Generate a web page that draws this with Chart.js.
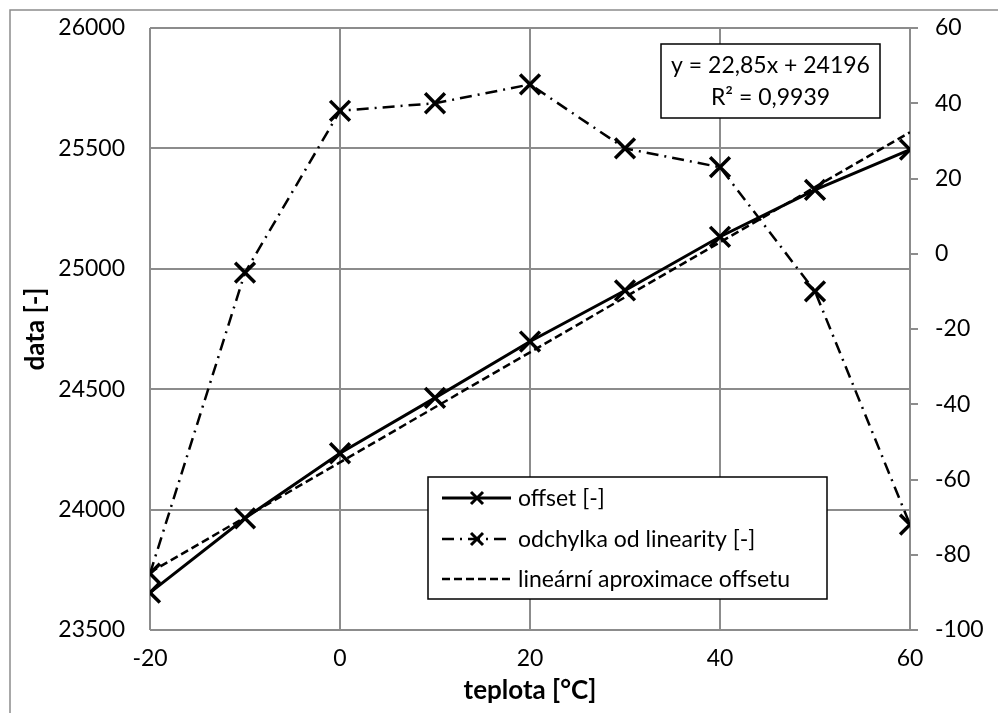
<!DOCTYPE html>
<html>
<head>
<meta charset="utf-8">
<script src="https://cdn.jsdelivr.net/npm/chart.js@4.4.1/dist/chart.umd.min.js"></script>
<style>
html,body{margin:0;padding:0;background:#fff;}
#wrap{position:relative;width:998px;height:713px;}
canvas{display:block;}
</style>
</head>
<body>
<div id="wrap"><canvas id="c" width="998" height="713"></canvas></div>
<script>
// ---- data ----
const temperatures = [-20, -10, 0, 10, 20, 30, 40, 50, 60];
const offsetValues = [23655, 23964, 24234, 24464, 24698, 24910, 25133, 25328, 25495];
const deviationValues = [-85, -5, 38, 40, 45, 28, 23, -10, -72];
const trendValues = [23739, 23968, 24196, 24425, 24653, 24882, 25110, 25339, 25567];
const xTicks = [-20, 0, 20, 40, 60];
const leftTicks = [23500, 24000, 24500, 25000, 25500, 26000];
const rightTicks = [-100, -80, -60, -40, -20, 0, 20, 40, 60];
const seriesNames = ['offset [-]', 'odchylka od linearity [-]', 'lineární aproximace offsetu'];
const equationLines = ['y = 22,85x + 24196', 'R² = 0,9939'];
const xTitle = 'teplota [°C]';
const yTitle = 'data [-]';

const FONT = 'Lato, "Open Sans", sans-serif';
const GRID = '#8c8c8c';

const toPts = (ys) => temperatures.map((t, i) => ({x: t, y: ys[i]}));
const plain = (v) => String(v);

const dashDot = [12, 6, 2, 6];
const dashed = [8, 4];

const styles = [
  {dash: [], width: 3, marker: true},
  {dash: dashDot, width: 2.5, marker: true},
  {dash: dashed, width: 2.5, marker: false}
];

function drawX(ctx, x, y, r, w) {
  ctx.save();
  ctx.setLineDash([]);
  ctx.lineWidth = w;
  ctx.strokeStyle = '#000';
  ctx.beginPath();
  ctx.moveTo(x - r, y - r); ctx.lineTo(x + r, y + r);
  ctx.moveTo(x + r, y - r); ctx.lineTo(x - r, y + r);
  ctx.stroke();
  ctx.restore();
}

const overlayPlugin = {
  id: 'overlay',
  beforeDraw(chart) {
    const ctx = chart.ctx;
    ctx.save();
    ctx.fillStyle = '#fff';
    ctx.fillRect(0, 0, chart.width, chart.height);
    ctx.strokeStyle = '#8c8c8c';
    ctx.lineWidth = 1.5;
    ctx.beginPath();
    ctx.moveTo(10, 713);
    ctx.lineTo(10, 10);
    ctx.lineTo(998, 10);
    ctx.stroke();
    ctx.restore();
  },
  afterDraw(chart) {
    const ctx = chart.ctx;
    ctx.save();
    // equation box
    ctx.fillStyle = '#fff';
    ctx.fillRect(661, 44, 219, 74);
    ctx.strokeStyle = '#000';
    ctx.lineWidth = 1.5;
    ctx.strokeRect(661, 44, 219, 74);
    ctx.fillStyle = '#000';
    ctx.font = '23px ' + FONT;
    ctx.textAlign = 'center';
    ctx.textBaseline = 'middle';
    ctx.fillText(equationLines[0], 770.5, 66);
    ctx.fillText(equationLines[1], 770.5, 98);

    // legend
    const lx = 428, ly = 477, lw = 399, lh = 122;
    ctx.fillStyle = '#fff';
    ctx.fillRect(lx, ly, lw, lh);
    ctx.strokeStyle = '#000';
    ctx.lineWidth = 1.5;
    ctx.strokeRect(lx, ly, lw, lh);
    const rows = [498, 539, 579];
    ctx.textAlign = 'left';
    ctx.textBaseline = 'middle';
    ctx.font = '23px ' + FONT;
    seriesNames.forEach((name, i) => {
      const st = styles[i];
      const y = rows[i];
      ctx.save();
      ctx.strokeStyle = '#000';
      ctx.lineWidth = st.width;
      ctx.setLineDash(st.dash);
      ctx.beginPath();
      ctx.moveTo(442, y);
      ctx.lineTo(511, y);
      ctx.stroke();
      ctx.restore();
      if (st.marker) drawX(ctx, 477, y, 6, 3);
      ctx.fillStyle = '#000';
      ctx.fillText(name, 518, y + 1);
    });
    ctx.restore();
  }
};

const ctx = document.getElementById('c').getContext('2d');
new Chart(ctx, {
  type: 'line',
  data: {
    datasets: [
      {
        label: seriesNames[0],
        data: toPts(offsetValues),
        yAxisID: 'y',
        borderColor: '#000',
        borderWidth: 3,
        pointStyle: 'crossRot',
        pointRadius: 14,
        pointBorderWidth: 3.5,
        pointBorderColor: '#000',
        pointBackgroundColor: '#000',
        tension: 0,
        order: 1
      },
      {
        label: seriesNames[1],
        data: toPts(deviationValues),
        yAxisID: 'y2',
        borderColor: '#000',
        borderWidth: 2.5,
        borderDash: dashDot,
        pointStyle: 'crossRot',
        pointRadius: 14,
        pointBorderWidth: 3.5,
        pointBorderColor: '#000',
        pointBackgroundColor: '#000',
        tension: 0,
        order: 2
      },
      {
        label: seriesNames[2],
        data: toPts(trendValues),
        yAxisID: 'y',
        borderColor: '#000',
        borderWidth: 2.5,
        borderDash: dashed,
        pointRadius: 0,
        tension: 0,
        order: 3
      }
    ]
  },
  options: {
    responsive: false,
    animation: false,
    devicePixelRatio: 1,
    layout: {padding: {top: 28, left: 0, right: 0, bottom: 0}},
    plugins: {legend: {display: false}, tooltip: {enabled: false}},
    scales: {
      x: {
        type: 'linear',
        min: xTicks[0],
        max: xTicks[xTicks.length - 1],
        afterBuildTicks: (s) => { s.ticks = xTicks.map(v => ({value: v})); },
        afterFit: (s) => { s.height = 83; s.paddingLeft = 0; s.paddingRight = 0; },
        ticks: {color: '#000', font: {family: FONT, size: 23}, padding: 15, maxRotation: 0, autoSkip: false, callback: plain},
        grid: {color: GRID, lineWidth: 2, drawTicks: false},
        border: {display: false},
        title: {display: true, text: xTitle, color: '#000', font: {family: FONT, size: 26, weight: 'bold'}, padding: {top: 0, bottom: 7}}
      },
      y: {
        type: 'linear',
        position: 'left',
        min: leftTicks[0],
        max: leftTicks[leftTicks.length - 1],
        afterBuildTicks: (s) => { s.ticks = leftTicks.map(v => ({value: v})); },
        afterFit: (s) => { s.width = 150; s.paddingTop = 0; s.paddingBottom = 0; },
        ticks: {color: '#000', font: {family: FONT, size: 23}, padding: 25, autoSkip: false, callback: plain},
        grid: {color: GRID, lineWidth: 2, drawTicks: false},
        border: {display: false},
        title: {display: true, text: yTitle, color: '#000', font: {family: FONT, size: 26, weight: 'bold'}, padding: {top: 20, bottom: 0}}
      },
      y2: {
        type: 'linear',
        position: 'right',
        min: rightTicks[0],
        max: rightTicks[rightTicks.length - 1],
        afterBuildTicks: (s) => { s.ticks = rightTicks.map(v => ({value: v})); },
        afterFit: (s) => { s.width = 88; s.paddingTop = 0; s.paddingBottom = 0; },
        ticks: {color: '#000', font: {family: FONT, size: 23}, padding: 17, autoSkip: false, callback: plain},
        grid: {drawOnChartArea: false, color: GRID, lineWidth: 2, tickLength: 8},
        border: {display: true, color: GRID, width: 2}
      }
    }
  },
  plugins: [overlayPlugin]
});
</script>
</body>
</html>
